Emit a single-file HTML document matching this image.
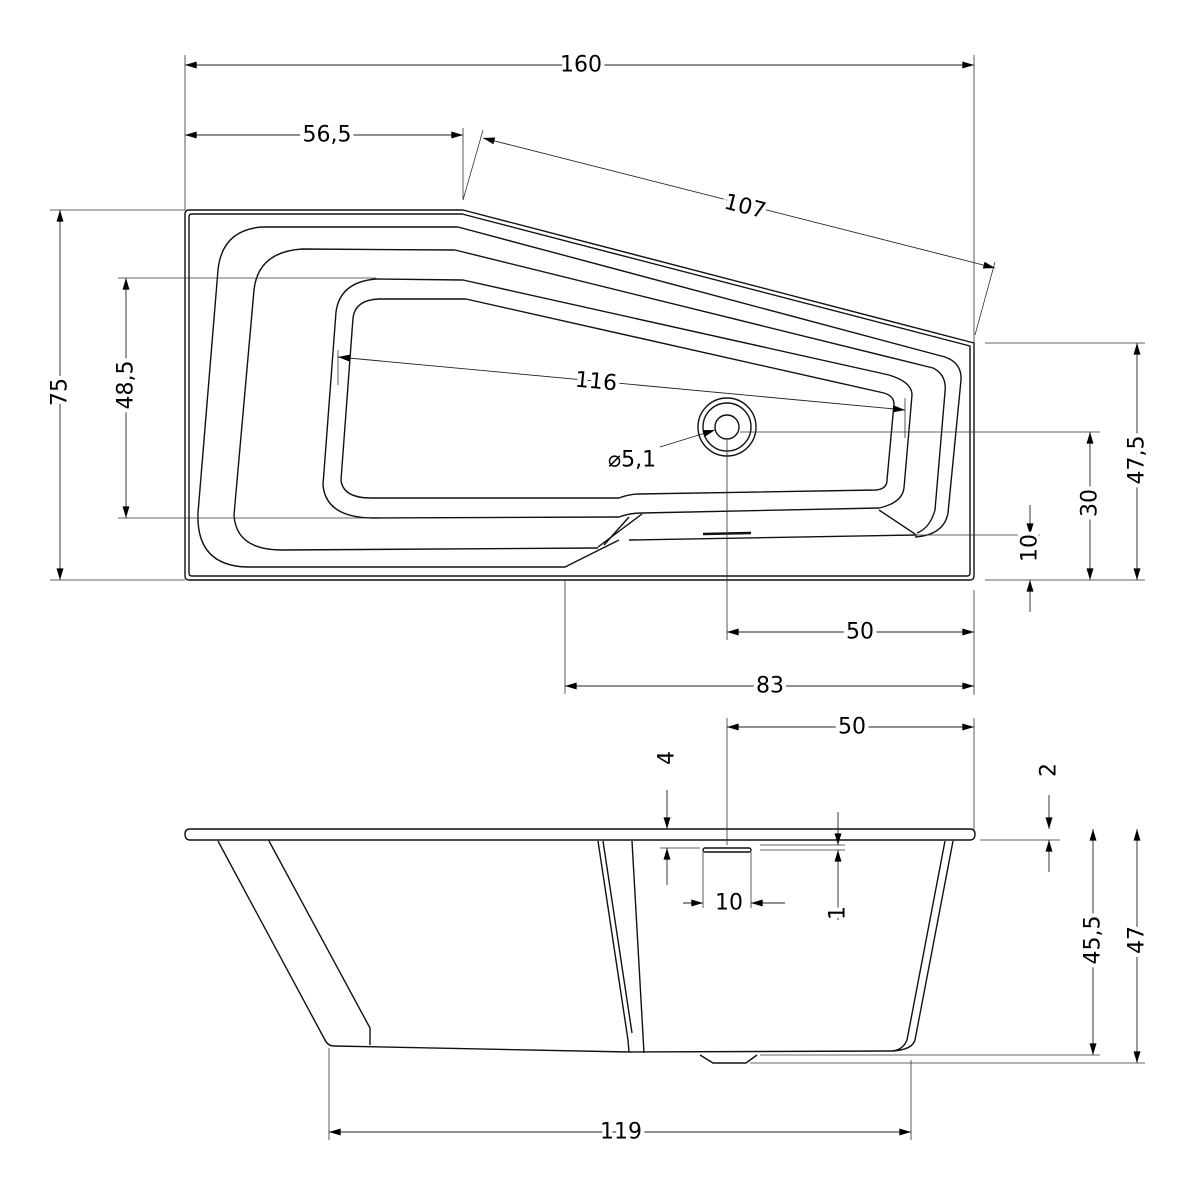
<!DOCTYPE html>
<html><head><meta charset="utf-8"><style>html,body{margin:0;padding:0;background:#fff}svg{display:block}</style></head><body>
<svg width="1200" height="1200" viewBox="0 0 1200 1200" xmlns="http://www.w3.org/2000/svg">
<defs>
<marker id="a" viewBox="0 0 10 6" refX="10" refY="3" markerWidth="16" markerHeight="7" markerUnits="userSpaceOnUse" orient="auto-start-reverse"><path d="M0,0L10,3L0,6z" fill="#000"/></marker>
</defs>
<g fill="none" stroke="#111" stroke-width="1.4" stroke-linejoin="round">
<!-- top view outer -->
<path d="M189,210 L463,210 L974,343 L974,576 Q974,580 970,580 L189,580 Q185,580 185,576 L185,214 Q185,210 189,210Z"/>
<path d="M192,214 L462,214 L970,346 L970,573 Q970,576 967,576 L192,576 Q189,576 189,573 L189,217 Q189,214 192,214Z"/>
<!-- curve1 -->
<path d="M458,227 L262,227 Q222,230 218,270 L198,513 Q196,565 246,567 L565,567 L619,540"/>
<path d="M458,227 L945,357 Q962,363 961,380 L948,513 Q944,535 915,537"/>
<!-- curve2 -->
<path d="M455,250 L302,249 Q258,252 254,290 L234,515 Q236,550 282,550 L598,548"/>
<path d="M455,250 L933,368 Q947,375 945,392 L935,510 Q930,528 917,533"/>
<!-- curve3 -->
<path d="M463,280 L376,279 Q340,282 336,312 L323,485 Q326,518 374,518 L619,517 Q630,513 642,513 L879,508 Q902,503 904,488 L912,395 Q912,382 889,375 Z"/>
<!-- curve4 -->
<path d="M466,299 L379,299 Q355,300 353,318 L341,480 Q343,498 371,498 L619,498 Q630,494 639,494 L876,490 Q887,489 887,480 L894,404 Q894,396 884,393 Z"/>
<!-- step -->
<path d="M642,514 L598,547"/>
<path d="M629,517 L604,545"/>
<path d="M629,540 L917,535"/>
<path d="M879,510 L915,534"/>
<path d="M703,534 L751,533" stroke-width="2.5"/>
<circle cx="727" cy="427" r="29"/><circle cx="727" cy="427" r="24"/><circle cx="727" cy="427" r="12"/>
<!-- side view -->
<path d="M190,829 L970,829 Q975,829 975,834 Q975,840 970,840 L190,840 Q185,840 185,834 Q185,829 190,829Z"/>
<path d="M218,841 L325,1040 Q328,1046 334,1046 L629,1052 L892,1051 Q912,1050 915,1040 L953,841"/>
<path d="M269,841 L370,1028 L370,1045"/>
<path d="M945,841 L907,1040 Q903,1050 892,1051"/>
<path d="M598,841 L628,1040 L629,1052"/>
<path d="M603,841 L632,1033"/>
<path d="M632,841 L644,1053"/>
<path d="M700,1055 L713,1063 L746,1063 L757,1055"/>
<rect x="703" y="848" width="48" height="4" rx="2"/>
</g>
<g stroke="#333" stroke-width="0.8" fill="none">
<!-- extension lines -->
<path d="M185,55V210M974,55V343M463,128V200M483,130L463,200M995,262L975,335M50,210H185M50,580H185M118,278H376M118,518H370M338,350V385M905,398V438M985,343H1145M740,432H1100M917,535H1040M985,580H1145M727,440V640M974,590V695M565,580V694M727,718V845M974,718V829M660,848H700M980,840H1060M760,845H845M760,850H845M703,852V908M751,852V908M760,1055H1100M750,1063H1145M329,1048V1140M911,1060V1140"/>
</g>
<g stroke="#222" stroke-width="0.9" fill="none" marker-start="url(#a)" marker-end="url(#a)">
<path d="M185,65H974"/>
<path d="M185,135H463"/>
<path d="M483,138L995,268"/>
<path d="M60,210V580"/>
<path d="M126,278V518"/>
<path d="M338,357L905,410"/>
<path d="M1137,343V580"/>
<path d="M1090,432V580"/>
<path d="M727,632H974"/>
<path d="M565,686H974"/>
<path d="M727,727H974"/>
<path d="M1093,829V1055"/>
<path d="M1137,829V1063"/>
<path d="M329,1132H911"/>
</g>
<g stroke="#222" stroke-width="0.9" fill="none" marker-end="url(#a)">
<path d="M1030,505V535"/><path d="M1030,612V580"/>
<path d="M667,790V829"/><path d="M667,885V848"/>
<path d="M1049,795V829"/><path d="M1049,872V840"/>
<path d="M838,812V845"/><path d="M838,920V850"/>
<path d="M683,903H703"/><path d="M785,903H751"/>
<path d="M660,447L715,430"/>
</g>
<g font-family="'DejaVu Sans','Liberation Sans',sans-serif" font-size="22" fill="#000" stroke="#fff" stroke-width="8" paint-order="stroke" text-anchor="middle" dominant-baseline="central">
<text x="581" y="65">160</text>
<text x="327" y="135">56,5</text>
<text x="745" y="207" transform="rotate(14.3 745 207)">107</text>
<text x="60" y="392" transform="rotate(-90 60 392)">75</text>
<text x="126" y="385" transform="rotate(-90 126 385)">48,5</text>
<text x="596" y="382" transform="rotate(5.4 596 382)">116</text>
<text x="632" y="460">⌀5,1</text>
<text x="1137" y="460" transform="rotate(-90 1137 460)">47,5</text>
<text x="1090" y="503" transform="rotate(-90 1090 503)">30</text>
<text x="1030" y="548" transform="rotate(-90 1030 548)">10</text>
<text x="860" y="632">50</text>
<text x="770" y="686">83</text>
<text x="852" y="727">50</text>
<text x="667" y="758" transform="rotate(-90 667 758)">4</text>
<text x="1049" y="770" transform="rotate(-90 1049 770)">2</text>
<text x="838" y="913" transform="rotate(-90 838 913)">1</text>
<text x="729" y="903">10</text>
<text x="1093" y="940" transform="rotate(-90 1093 940)">45,5</text>
<text x="1137" y="940" transform="rotate(-90 1137 940)">47</text>
<text x="621" y="1132">119</text>
</g>
</svg>
</body></html>
